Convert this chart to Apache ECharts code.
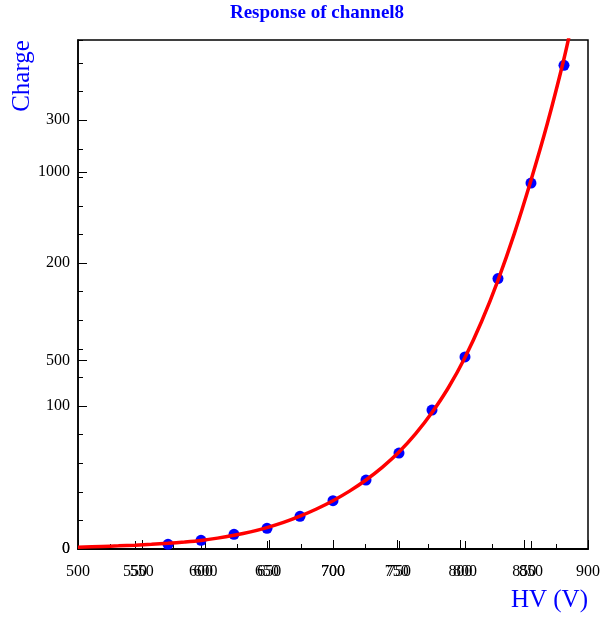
<!DOCTYPE html>
<html>
<head>
<meta charset="utf-8">
<script src="https://cdn.jsdelivr.net/npm/echarts@6/dist/echarts.min.js"></script>
<style>
html,body{margin:0;padding:0;background:#fff;}
#chart{width:603px;height:618px;}
</style>
</head>
<body>
<div id="chart"></div>
<script>
// measured HV points (V) and charge response
const hvValues = [575, 600, 625, 650, 675, 700, 725, 750, 775, 800, 825, 850, 875];
const chargeValues = [3.3, 6.1, 10.3, 14.5, 22.9, 33.8, 48.2, 67.1, 97.2, 134.4, 189.2, 256.0, 338.4];
// fit curve
const fitHv = [506.8, 525, 537.5, 550, 562.5, 575, 587.5, 600, 612.5, 625, 637.5, 650, 662.5, 675, 687.5, 700, 712.5, 725, 737.5, 750, 762.5, 775, 787.5, 800, 812.5, 825, 837.5, 850, 862.5, 875, 882];
const fitCharge = [1.2, 1.8, 2.2, 2.7, 3.3, 4.0, 4.9, 6.0, 7.6, 9.6, 12.0, 15.0, 18.6, 23.0, 28.0, 33.8, 40.5, 48.3, 57.3, 67.8, 80.5, 95.5, 113, 134, 159, 188, 221, 258, 298, 343, 372];
// tick labels
const xTicksMain = [500, 550, 600, 650, 700, 750, 800, 850, 900];
const xTicksSecond = [550, 600, 650, 700, 750, 800, 850];
const yTicksMain = [0, 100, 200, 300];
const yTicksSecond = [0, 500, 1000];
const titleText = 'Response of channel8';
const xTitle = 'HV (V)';
const yTitle = 'Charge';

const FONT = 'Liberation Serif';
const labelStyle = {color: '#000', fontFamily: FONT, fontSize: 16, formatter: v => String(v)};
const chart = echarts.init(document.getElementById('chart'), null, {renderer: 'canvas'});

chart.setOption({
  animation: false,
  backgroundColor: '#fff',
  grid: {left: 78, top: 40, width: 510, height: 509, show: true, borderColor: '#000', borderWidth: 1.5, backgroundColor: 'transparent', containLabel: false},
  xAxis: [
    {
      type: 'value', min: 506.8, max: 893.2, position: 'bottom', offset: 0,
      axisLine: {show: true, onZero: false, lineStyle: {color: '#000', width: 2}},
      axisTick: {show: true, inside: true, length: 8, customValues: xTicksSecond, lineStyle: {color: '#000'}},
      axisLabel: Object.assign({customValues: xTicksSecond, margin: 15}, labelStyle),
      splitLine: {show: false}
    },
    {
      type: 'value', min: 500, max: 900, interval: 50, position: 'bottom', offset: 0,
      axisLine: {show: false, onZero: false},
      axisTick: {show: true, inside: true, length: 9, lineStyle: {color: '#000'}},
      minorTick: {show: true, splitNumber: 2, length: 5, lineStyle: {color: '#000'}},
      axisLabel: Object.assign({margin: 15, showMinLabel: true, showMaxLabel: true}, labelStyle),
      splitLine: {show: false}, minorSplitLine: {show: false}
    }
  ],
  yAxis: [
    {
      type: 'value', min: 0, max: 356.1, position: 'left', offset: 0,
      axisLine: {show: true, onZero: false, lineStyle: {color: '#000', width: 1.5}},
      axisTick: {show: true, inside: true, length: 9, customValues: yTicksMain, lineStyle: {color: '#000'}},
      axisLabel: Object.assign({customValues: yTicksMain, margin: 8}, labelStyle),
      splitLine: {show: false}
    },
    {
      type: 'value', min: 0, max: 1349.7, position: 'left', offset: 0,
      axisLine: {show: false, onZero: false},
      axisTick: {show: true, inside: true, length: 9, customValues: yTicksSecond, lineStyle: {color: '#000'}},
      axisLabel: Object.assign({customValues: yTicksSecond, margin: 8}, labelStyle),
      splitLine: {show: false}
    },
    {
      type: 'value', min: 0, max: 356.1, interval: 20, position: 'left', offset: 0,
      axisLine: {show: false, onZero: false},
      axisTick: {show: true, inside: true, length: 5, lineStyle: {color: '#000'}},
      axisLabel: {show: false},
      splitLine: {show: false}
    }
  ],
  series: [
    {
      type: 'scatter', xAxisIndex: 0, yAxisIndex: 0, z: 2,
      symbol: 'circle', symbolSize: 11,
      itemStyle: {color: '#0000ff', opacity: 1},
      data: hvValues.map((v, i) => [v, chargeValues[i]])
    },
    {
      type: 'line', xAxisIndex: 0, yAxisIndex: 0, z: 3,
      smooth: 0.3, showSymbol: false, clip: true,
      lineStyle: {color: '#ff0000', width: 3.5},
      data: fitHv.map((v, i) => [v, fitCharge[i]])
    }
  ],
  graphic: [
    {type: 'text', x: 317, y: 13, style: {text: titleText, fill: '#0000ff', font: 'bold 19px "Liberation Serif"', textAlign: 'center', textVerticalAlign: 'middle'}},
    {type: 'text', x: 22, y: 76, rotation: Math.PI / 2, style: {text: yTitle, fill: '#0000ff', font: '25px "Liberation Serif"', textAlign: 'center', textVerticalAlign: 'middle'}},
    {type: 'text', x: 588, y: 600, style: {text: xTitle, fill: '#0000ff', font: '25px "Liberation Serif"', textAlign: 'right', textVerticalAlign: 'middle'}}
  ]
});
</script>
</body>
</html>
